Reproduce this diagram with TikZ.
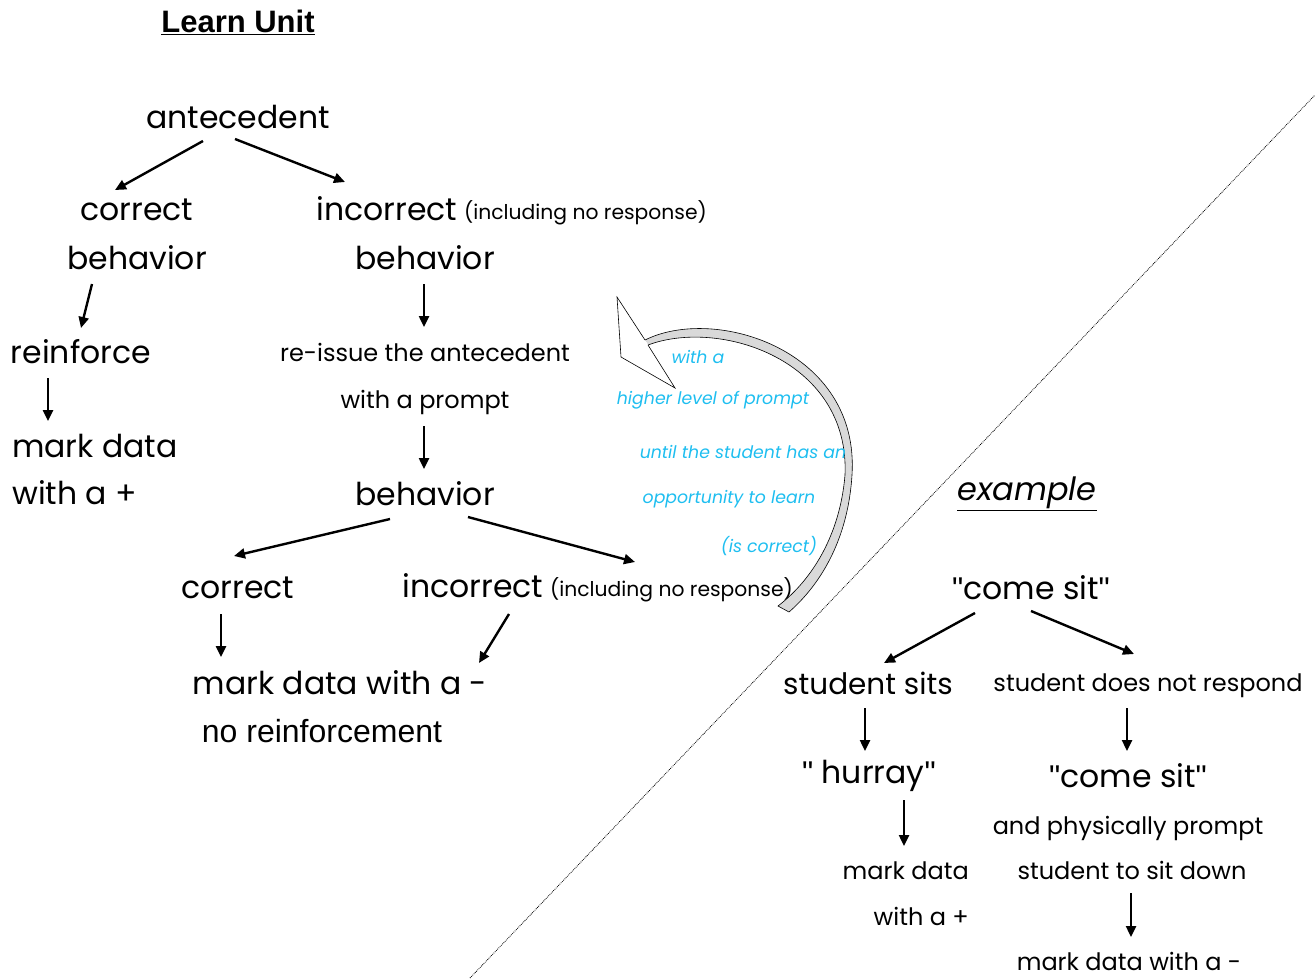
\documentclass[tikz,border=0pt]{standalone}
\usepackage{fontspec}
\setmainfont{Poppins}
\newfontfamily\arialf{Liberation Sans}
\usetikzlibrary{arrows.meta}
\definecolor{cyanblue}{RGB}{30,190,240}
\newcommand{\sq}{{\arialf\symbol{34}}}
\tikzset{
  x=1pt, y=-1pt,
  txt/.style={inner sep=0pt, font=\fontsize{31.5}{36}\selectfont},
  midt/.style={inner sep=0pt, font=\fontsize{24}{28}\selectfont},
  smlt/.style={inner sep=0pt, font=\fontsize{20.3}{24}\selectfont},
  bluet/.style={inner sep=0pt, text=cyanblue, font=\itshape\fontsize{17.3}{21}\selectfont},
  arr/.style={line width=2.4pt, -{Triangle[length=11pt,width=10pt]}},
}
\begin{document}
\begin{tikzpicture}
\useasboundingbox (0,0) rectangle (1315,978);
% title
\node[inner sep=0pt, font=\arialf\bfseries\fontsize{31}{36}\selectfont] (title) at (238,22) {\underline{Learn Unit}};
% dotted divider
\coordinate (d1) at (470,978);
\coordinate (d2) at (1315,95);
\draw[densely dotted, line width=0.8pt] (d1) -- (d2);
% left tree
\node[txt] (ante) at (238,117) {antecedent};
\node[txt] (corr1) at (137,210) {correct};
\node[txt] (beh1) at (137,258) {behavior};
\node[txt] (inc1) at (387,209) {incorrect};
\node[smlt, anchor=west] (incn1) at (464,213) {(including no response)};
\node[txt] (beh2) at (425,258) {behavior};
\node[txt] (reinf) at (81,352) {reinforce};
\node[txt, anchor=west] (md1) at (12,446) {mark data};
\node[txt, anchor=west] (wa1) at (12,493) {with a +};
\node[midt] (reiss) at (425,352) {re-issue the antecedent};
\node[midt] (wprompt) at (425,402) {with a prompt};
\node[txt] (beh3) at (425,494) {behavior};
\node[txt] (corr2) at (238,588) {correct};
\node[txt] (inc2) at (473,586) {incorrect};
\node[smlt, anchor=west] (incn2) at (550,590) {(including no response)};
\node[txt] (md2) at (340,683) {mark data with a -};
\node[inner sep=0pt, font=\arialf\fontsize{32}{36}\selectfont] (noreinf) at (322,731) {no reinforcement};
% arrow coordinates
\coordinate (a1s) at (203,141); \coordinate (a1e) at (115,190);
\coordinate (a2s) at (235,139); \coordinate (a2e) at (345,182);
\coordinate (a3s) at (92,284);  \coordinate (a3e) at (81,328);
\coordinate (a4s) at (424,284); \coordinate (a4e) at (424,327);
\coordinate (a5s) at (48,378);  \coordinate (a5e) at (48,421);
\coordinate (a6s) at (424,426); \coordinate (a6e) at (424,469);
\coordinate (a7s) at (390,519); \coordinate (a7e) at (234,556);
\coordinate (a8s) at (468,517); \coordinate (a8e) at (635,562);
\coordinate (a9s) at (221,614); \coordinate (a9e) at (221,657);
\coordinate (a10s) at (509,614); \coordinate (a10e) at (479,663);
\draw[arr] (a1s) -- (a1e);
\draw[arr] (a2s) -- (a2e);
\draw[arr] (a3s) -- (a3e);
\draw[arr] (a4s) -- (a4e);
\draw[arr] (a5s) -- (a5e);
\draw[arr] (a6s) -- (a6e);
\draw[arr] (a7s) -- (a7e);
\draw[arr] (a8s) -- (a8e);
\draw[arr] (a9s) -- (a9e);
\draw[arr] (a10s) -- (a10e);
% curved block arrow
\fill[gray!30] (645,340) .. controls (715,305) and (860,350) .. (852,475)
   .. controls (848,540) and (820,585) .. (789,612) -- (778,606)
   .. controls (812,580) and (840,535) .. (845,475)
   .. controls (850,360) and (720,318) .. (648,345) -- cycle;
\draw[line width=0.6pt, fill=white] (648,345) -- (675,388) -- (621,357) -- (617,297) -- (645,340);
\draw[line width=0.6pt] (645,340) .. controls (715,305) and (860,350) .. (852,475)
   .. controls (848,540) and (820,585) .. (789,612) -- (778,606)
   .. controls (812,580) and (840,535) .. (845,475)
   .. controls (850,360) and (720,318) .. (648,345);
% blue notes
\node[bluet] (b1) at (698,357) {with a};
\node[bluet] (b2) at (713,400) {higher level of prompt};
\node[bluet] (b3) at (743,452) {until the student has an};
\node[bluet] (b4) at (729,499) {opportunity to learn};
\node[bluet] (b5) at (769,546) {(is correct)};
% example
\node[inner sep=0pt, font=\itshape\fontsize{32}{36}\selectfont] (ex) at (1027,494) {\underline{example}};
\node[txt] (cs1) at (1031,588) {\sq come sit\sq};
\node[txt, font=\fontsize{29.5}{34}\selectfont] (ss) at (868,683) {student sits};
\node[midt] (sdnr) at (1148,686) {student does not respond};
\node[txt] (hur) at (869,776) {\sq\ hurray\sq};
\node[txt] (cs2) at (1128,776) {\sq come sit\sq};
\node[midt] (phys) at (1128,828) {and physically prompt};
\node[midt] (sitd) at (1132,870) {student to sit down};
\node[midt, anchor=east] (md3) at (969,871) {mark data};
\node[midt, anchor=east] (wa3) at (969,916) {with a +};
\node[midt] (md4) at (1129,961) {mark data with a -};
\coordinate (e1s) at (975,613); \coordinate (e1e) at (884,663);
\coordinate (e2s) at (1031,611); \coordinate (e2e) at (1134,654);
\coordinate (e3s) at (865,708); \coordinate (e3e) at (865,751);
\coordinate (e4s) at (1127,708); \coordinate (e4e) at (1127,751);
\coordinate (e5s) at (904,800); \coordinate (e5e) at (904,846);
\coordinate (e6s) at (1131,893); \coordinate (e6e) at (1131,937);
\draw[arr] (e1s) -- (e1e);
\draw[arr] (e2s) -- (e2e);
\draw[arr] (e3s) -- (e3e);
\draw[arr] (e4s) -- (e4e);
\draw[arr] (e5s) -- (e5e);
\draw[arr] (e6s) -- (e6e);
\end{tikzpicture}
\end{document}
